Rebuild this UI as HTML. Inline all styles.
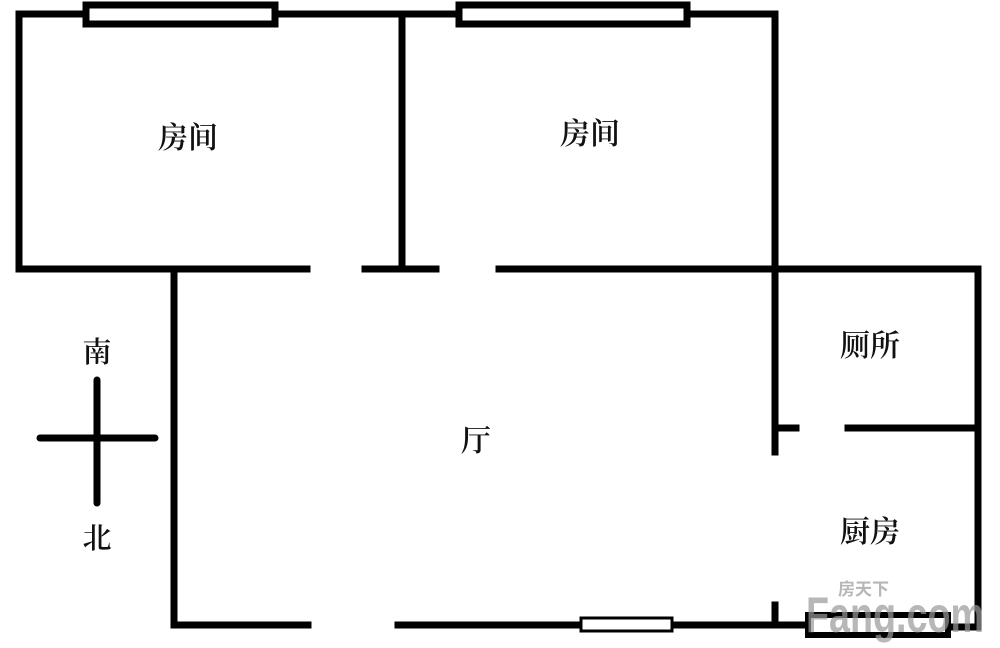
<!DOCTYPE html>
<html><head><meta charset="utf-8"><style>
html,body{margin:0;padding:0;background:#fff;}
svg{display:block}
.lbl text{font-family:"Liberation Serif","Noto Serif CJK SC","Noto Sans CJK SC",serif;fill:#111;font-weight:600;}
.wm text{font-family:"Liberation Sans","Noto Sans CJK SC",sans-serif;fill:#999;font-weight:bold;}
</style></head><body>
<svg width="1000" height="648" viewBox="0 0 1000 648" xmlns="http://www.w3.org/2000/svg">
<g stroke="#000" stroke-width="7" fill="none" stroke-linecap="square">
  <polyline points="19,269 19,14 775,14 775,452"/>
  <line x1="402" y1="14" x2="402" y2="269"/>
  <line x1="19" y1="269" x2="307" y2="269"/>
  <line x1="365" y1="269" x2="436" y2="269"/>
  <line x1="499" y1="269" x2="978" y2="269"/>
  <line x1="978" y1="269" x2="978" y2="627"/>
  <line x1="174" y1="269" x2="174" y2="625"/>
  <line x1="174" y1="625" x2="308" y2="625"/>
  <line x1="398" y1="625" x2="805" y2="625"/>
  <line x1="775" y1="605" x2="775" y2="625"/>
  <line x1="950" y1="627" x2="978" y2="627"/>
  <line x1="775" y1="428" x2="796" y2="428"/>
  <line x1="848" y1="428" x2="978" y2="428"/>
</g>
<g stroke="#000" stroke-width="7" stroke-linecap="round">
  <line x1="40" y1="438" x2="155" y2="438"/>
  <line x1="97" y1="380" x2="97" y2="503"/>
</g>
<rect x="86" y="5" width="189" height="19" fill="#fff" stroke="#000" stroke-width="7"/>
<rect x="459" y="5" width="228" height="19" fill="#fff" stroke="#000" stroke-width="7"/>
<rect x="581" y="618" width="91" height="13" fill="#fff" stroke="#000" stroke-width="3"/>
<rect x="808" y="615" width="140" height="20" fill="#fff" stroke="#000" stroke-width="6"/>
<g class="lbl" font-size="30" text-anchor="middle">
  <text x="188" y="148">房间</text>
  <text x="590" y="144">房间</text>
  <text x="870" y="356">厕所</text>
  <text x="476" y="451">厅</text>
  <text x="870" y="542">厨房</text>
  <text x="97" y="362" font-size="29">南</text>
  <text x="97" y="548" font-size="29">北</text>
</g>
<g class="wm" opacity="0.7">
  <text x="806" y="632" font-size="50" textLength="178" lengthAdjust="spacingAndGlyphs">Fang.com</text>
  <text x="838" y="595" font-size="17">房天下</text>
</g>
</svg>
</body></html>
